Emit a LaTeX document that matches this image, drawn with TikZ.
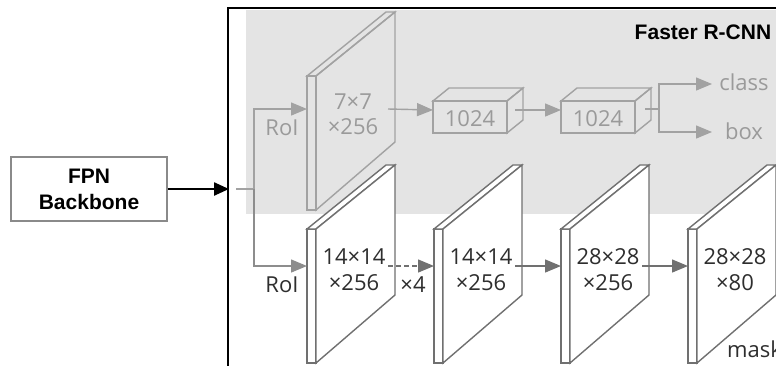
\documentclass[tikz,border=0pt]{standalone}
\usepackage{fontspec}
\setmainfont{Liberation Sans}
\newfontfamily\labfont{Open Sans}
\usetikzlibrary{arrows.meta}
\definecolor{bgray}{HTML}{E4E4E4}
\definecolor{tline}{HTML}{A2A2A2}
\definecolor{ttext}{HTML}{9A9A9A}
\definecolor{bline}{HTML}{707070}
\definecolor{btext}{HTML}{2E2E2E}
\definecolor{fpnline}{HTML}{8A8A8A}
\tikzset{
  tip/.style={-{Triangle[length=16pt,width=13pt]}},
  hdr/.style={font=\fontsize{21}{26}\selectfont\bfseries, text=black, inner sep=0pt},
  lab/.style={font=\labfont\fontsize{22}{26}\selectfont, inner sep=0pt},
  toplab/.style={lab, text=ttext},
  botlab/.style={lab, text=btext},
  topline/.style={draw=tline, line width=1.4pt},
  botline/.style={draw=bline, line width=1.4pt},
  pics/slab/.style={code={
    \draw[pic actions] (0,0) rectangle (9,134);
    \draw[pic actions] (0,0) -- (79,-64) -- (88,-64) -- (9,0) -- cycle;
    \draw[pic actions] (9,0) -- (88,-64) -- (88,66) -- (9,134) -- cycle;
    \coordinate (-in) at (0,#1);
    \coordinate (-out) at (81,#1);
  }},
  pics/fcbox/.style={code={
    \draw[pic actions] (0,0) rectangle (74,32);
    \draw[pic actions] (0,0) -- (16,-13) -- (90,-13) -- (74,0) -- cycle;
    \draw[pic actions] (74,0) -- (90,-13) -- (90,19) -- (74,32) -- cycle;
    \coordinate (-in) at (0,9);
    \coordinate (-out) at (82,9);
  }},
}
\begin{document}
\begin{tikzpicture}[x=1pt,y=-1pt, line join=miter]
\useasboundingbox (0,0) rectangle (776,365);
% gray region
\fill[bgray] (246,10) rectangle (776,214);
% frame
\draw[black, line width=2pt] (228,366) -- (228,8) -- (777,8);
\node[hdr, anchor=center] (frcnn) at (703,32) {Faster R-CNN};
% FPN backbone
\node[hdr, draw=fpnline, line width=1.3pt, minimum width=156pt, minimum height=64pt, align=center] (fpn) at (89,189) {FPN\\Backbone};
\coordinate (fin) at (229,189);
\draw[black, line width=2.4pt, -{Triangle[length=15pt,width=13pt]}] (fpn.east) -- (fin);
% split
\coordinate (g0) at (236,189);
\coordinate (split) at (254,189);
% top branch
\pic[topline] (t) at (307,76) {slab=33};
\node[toplab] (t1) at (353,102) {7×7};
\node[toplab] (t2) at (353,127) {×256};
\pic[topline] (f1) at (433,101) {fcbox};
\pic[topline] (f2) at (561,101) {fcbox};
\node[toplab] (f1t) at (470,119) {1024};
\node[toplab] (f2t) at (598,119) {1024};
\node[toplab] (roiA) at (282,128) {RoI};
\draw[topline] (g0) -- (split);
\draw[topline, tip] (split) |- (t-in);
\draw[topline, tip] (t-out) -- (f1-in);
\draw[topline, tip] (f1-out) -- (f2-in);
\coordinate (f2o) at (645,109);
\coordinate (br) at (659,109);
\coordinate (ctip) at (712,84);
\coordinate (btip) at (712,132);
\node[toplab] (cls) at (744,82) {class};
\node[toplab] (bx) at (744,131) {box};
\draw[topline] (f2o) -- (br);
\draw[topline, tip] (br) |- (ctip);
\draw[topline, tip] (br) |- (btip);
% bottom branch
\pic[botline, fill=white] (s1) at (307,229) {slab=37};
\pic[botline, fill=white] (s2) at (434,229) {slab=37};
\pic[botline, fill=white] (s3) at (561,229) {slab=37};
\pic[botline, fill=white] (s4) at (688,229) {slab=37};
\draw[draw=bline!80, line width=1.4pt, tip] (split) |- (s1-in);
\node[botlab] (roiB) at (282,285) {RoI};
\node[botlab] (a1) at (354,257) {14×14};
\node[botlab] (a2) at (354,283) {×256};
\node[botlab] (b1) at (481,257) {14×14};
\node[botlab] (b2) at (481,283) {×256};
\node[botlab] (c1) at (608,257) {28×28};
\node[botlab] (c2) at (608,283) {×256};
\node[botlab] (d1) at (735,257) {28×28};
\node[botlab] (d2) at (735,283) {×80};
\node[botlab, anchor=west] (mask) at (727,349) {mask};
\node[botlab] (x4) at (413,285) {×4};
\draw[botline, dashed, dash pattern=on 5pt off 3pt, tip] (s1-out) -- (s2-in);
\draw[botline, tip] (s2-out) -- (s3-in);
\draw[botline, tip] (s3-out) -- (s4-in);
\end{tikzpicture}
\end{document}
